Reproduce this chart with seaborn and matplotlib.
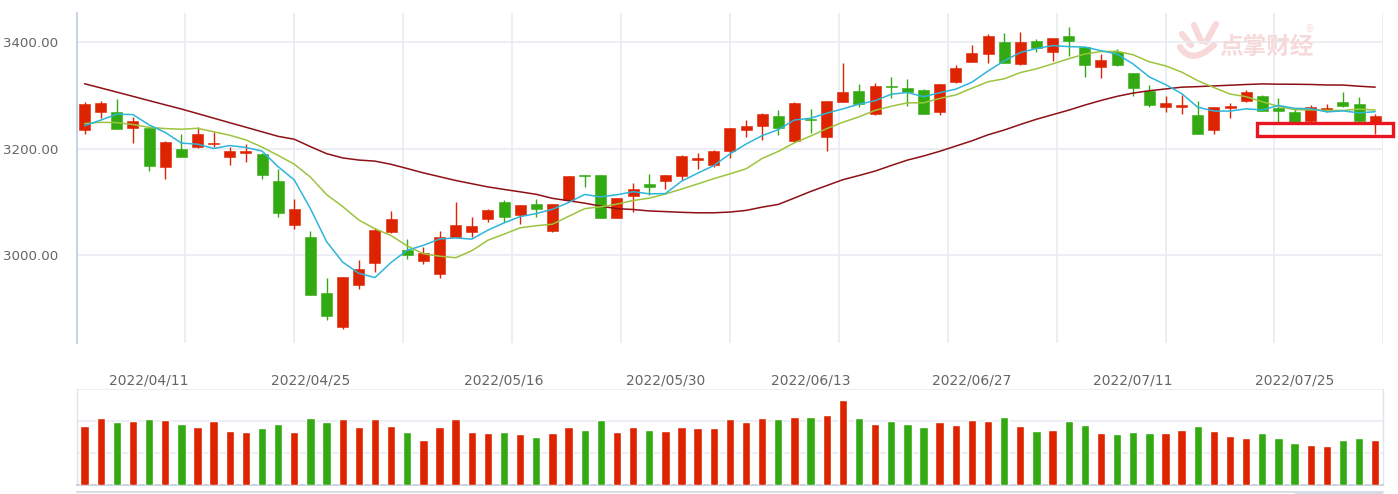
import numpy as np
import pandas as pd
import matplotlib
matplotlib.use("Agg")
import matplotlib.pyplot as plt
from matplotlib.patches import Rectangle
from matplotlib.path import Path
from matplotlib.patches import PathPatch
import seaborn as sns

# ---------------- data ----------------
apr = ["04/01", "04/06", "04/07", "04/08", "04/11", "04/12", "04/13", "04/14", "04/15",
       "04/18", "04/19", "04/20", "04/21", "04/22", "04/25", "04/26", "04/27", "04/28", "04/29"]
may = ["05/05", "05/06", "05/09", "05/10", "05/11", "05/12", "05/13", "05/16", "05/17", "05/18",
       "05/19", "05/20", "05/23", "05/24", "05/25", "05/26", "05/27", "05/30", "05/31"]
jun = ["06/01", "06/02", "06/06", "06/07", "06/08", "06/09", "06/10", "06/13", "06/14", "06/15",
       "06/16", "06/17", "06/20", "06/21", "06/22", "06/23", "06/24", "06/27", "06/28", "06/29", "06/30"]
jul = ["07/01", "07/04", "07/05", "07/06", "07/07", "07/08", "07/11", "07/12", "07/13", "07/14",
       "07/15", "07/18", "07/19", "07/20", "07/21", "07/22", "07/25", "07/26", "07/27", "07/28", "07/29"]
aug = ["08/01"]
dates = ["2022/" + d for d in apr + may + jun + jul + aug]

opens = [3234.6, 3267.8, 3268.9, 3238.4, 3238.4, 3164.8, 3199.0, 3202.2, 3208.4, 3184.6,
         3191.0, 3190.3, 3138.6, 3056.7, 3034.8, 2930.0, 2865.2, 2944.4, 2985.0, 3043.1,
         3010.5, 2989.9, 2964.4, 3033.7, 3043.1, 3067.9, 3100.4, 3074.9, 3095.5, 3045.5,
         3103.5, 3149.8, 3149.8, 3070.4, 3111.0, 3134.1, 3139.7, 3149.2, 3178.5, 3169.1,
         3195.3, 3234.6, 3242.7, 3260.3, 3214.0, 3255.8, 3222.1, 3287.6, 3307.7, 3264.6,
         3316.5, 3313.3, 3309.0, 3267.8, 3324.0, 3362.0, 3376.4, 3399.4, 3357.7, 3401.3,
         3380.1, 3410.7, 3390.6, 3353.2, 3381.3, 3340.8, 3307.1, 3278.3, 3277.7, 3262.7,
         3234.6, 3276.4, 3289.5, 3298.3, 3276.4, 3268.9, 3252.0, 3272.1, 3287.1, 3282.8,
         3247.2]
highs = [3286.5, 3289.5, 3292.1, 3258.4, 3239.0, 3214.6, 3226.6, 3239.7, 3230.9, 3203.4,
         3208.4, 3191.0, 3161.0, 3105.4, 3044.9, 2956.9, 2959.5, 2991.2, 3050.5, 3083.0,
         3030.5, 3015.5, 3044.9, 3100.4, 3071.2, 3086.7, 3103.5, 3094.0, 3104.9, 3096.0,
         3148.5, 3150.5, 3151.0, 3107.2, 3134.8, 3151.7, 3150.3, 3188.4, 3191.0, 3197.2,
         3238.5, 3253.4, 3267.0, 3272.1, 3286.5, 3273.9, 3290.0, 3359.6, 3320.8, 3323.2,
         3334.5, 3329.6, 3312.0, 3321.3, 3356.4, 3393.3, 3413.9, 3415.7, 3418.2, 3405.1,
         3406.9, 3427.0, 3391.2, 3377.0, 3385.8, 3341.3, 3318.4, 3298.3, 3300.2, 3289.5,
         3278.2, 3284.6, 3309.5, 3300.7, 3294.0, 3273.4, 3282.0, 3282.8, 3305.8, 3296.4,
         3264.6]
lows = [3227.0, 3256.6, 3236.0, 3209.7, 3157.3, 3142.3, 3184.0, 3201.0, 3202.2, 3168.5,
        3175.3, 3144.0, 3071.1, 3049.2, 2925.0, 2878.8, 2863.0, 2936.9, 2968.2, 3042.5,
        2993.0, 2983.7, 2956.9, 3033.0, 3033.7, 3061.8, 3061.8, 3058.6, 3072.3, 3043.0,
        3102.5, 3128.5, 3070.0, 3069.8, 3081.6, 3112.9, 3123.6, 3141.0, 3162.2, 3164.8,
        3181.6, 3222.1, 3215.9, 3225.3, 3212.7, 3229.6, 3195.9, 3287.0, 3278.3, 3262.7,
        3294.6, 3280.1, 3264.6, 3262.7, 3323.5, 3361.5, 3359.6, 3359.5, 3357.2, 3380.1,
        3364.4, 3373.8, 3334.5, 3332.6, 3355.3, 3298.9, 3278.3, 3267.8, 3264.0, 3226.6,
        3227.1, 3256.5, 3287.6, 3270.3, 3248.3, 3247.8, 3248.3, 3267.8, 3277.1, 3247.2,
        3226.6]
closes = [3282.8, 3284.6, 3236.5, 3250.9, 3167.2, 3212.7, 3184.6, 3226.6, 3210.3, 3194.7,
          3194.7, 3150.9, 3079.8, 3086.7, 2925.6, 2886.3, 2958.8, 2975.0, 3046.8, 3067.4,
          3000.6, 3004.3, 3034.8, 3057.3, 3055.4, 3084.8, 3072.3, 3093.6, 3086.1, 3095.5,
          3147.9, 3147.9, 3070.4, 3106.7, 3123.6, 3128.5, 3149.8, 3186.0, 3182.2, 3194.7,
          3237.8, 3242.1, 3264.6, 3239.0, 3284.6, 3253.9, 3289.5, 3305.2, 3283.3, 3316.5,
          3314.6, 3306.4, 3265.2, 3320.8, 3350.2, 3379.4, 3411.2, 3360.1, 3399.4, 3387.6,
          3406.4, 3401.9, 3355.8, 3365.7, 3355.8, 3312.7, 3280.9, 3284.6, 3282.0, 3227.1,
          3277.7, 3280.1, 3305.8, 3270.8, 3270.2, 3250.2, 3277.1, 3275.8, 3280.1, 3252.0,
          3260.9]
volumes = [277, 316, 294, 299, 309, 303, 287, 271, 299, 253,
           248, 266, 287, 248, 316, 294, 309, 271, 309, 277,
           248, 210, 271, 309, 248, 244, 248, 238, 225, 244,
           271, 259, 305, 248, 271, 259, 253, 271, 266, 266,
           309, 294, 316, 309, 320, 320, 327, 400, 316, 287,
           299, 287, 271, 294, 281, 305, 299, 320, 277, 253,
           259, 299, 281, 242, 238, 248, 242, 242, 259, 277,
           253, 231, 220, 242, 220, 197, 186, 181, 210, 220,
           210]

# moving-average values visible at the left edge (windows start before the chart)
ma5_head = [3243.0, 3253.4, 3264.6, 3263.7]
ma10_head = [3247.0, 3249.3, 3248.7, 3245.1, 3239.9, 3237.6, 3236.3, 3238.0, 3231.6]
ma30_head = [3321.5, 3313.7, 3305.8, 3297.9, 3289.9, 3282.0, 3274.2, 3265.7, 3257.1, 3248.5,
             3240.1, 3231.5, 3223.0, 3217.6, 3203.7, 3190.6, 3182.6, 3178.6, 3176.6, 3170.6,
             3162.7, 3154.6, 3147.5, 3140.4, 3134.3, 3128.3, 3123.6, 3119.1, 3114.4]

tick_dates = ["2022/04/11", "2022/04/25", "2022/05/16", "2022/05/30",
              "2022/06/13", "2022/06/27", "2022/07/11", "2022/07/25"]
y_ticks = [3000, 3200, 3400]

# ---------------- frame ----------------
df = pd.DataFrame({"date": dates, "open": opens, "high": highs, "low": lows,
                   "close": closes, "volume": volumes})
df["idx"] = np.arange(len(df))
df["dir"] = np.where(df["close"] >= df["open"], "up", "down")

def ma(series, n, head):
    m = series.rolling(n).mean().to_numpy()
    m[:len(head)] = head
    return m

df["ma5"] = ma(df["close"], 5, ma5_head)
df["ma10"] = ma(df["close"], 10, ma10_head)
df["ma30"] = ma(df["close"], 30, ma30_head)

RED = "#de2300"
GREEN = "#33aa11"
C_MA5 = "#2db5dc"
C_MA10 = "#9cc43c"
C_MA30 = "#8e1015"
GRID = "#e8ecf2"
TXT = "#666666"
WM = "#f7d9d9"

sns.set_theme(style="white")
plt.rcParams["font.family"] = ["DejaVu Sans", "Noto Sans CJK SC"]

W, H = 1398, 494
fig = plt.figure(figsize=(W / 100, H / 100), dpi=100)

def fx(px):
    return px / W

def fy(py):
    return 1 - py / H

# ---- watermark (behind everything) ----
fig.text(fx(1219), fy(47), "点掌财经", family=["Noto Sans CJK SC", "DejaVu Sans"],
         fontsize=17, fontweight="bold", color=WM, va="center", ha="left", zorder=0)
fig.text(fx(1305), fy(29), "®", fontsize=7, color=WM, va="center", ha="left", zorder=0)
for (x0, y0, x1, y1) in [(1182, 34, 1191, 45), (1194, 25, 1201, 41), (1216, 24, 1206, 42)]:
    fig.add_artist(plt.Line2D([fx(x0), fx(x1)], [fy(y0), fy(y1)], color=WM, lw=4.5,
                              solid_capstyle="round", zorder=0))
verts = [(fx(1180), fy(47)), (fx(1188), fy(60)), (fx(1200), fy(58)), (fx(1214), fy(45))]
fig.add_artist(PathPatch(Path(verts, [Path.MOVETO, Path.CURVE4, Path.CURVE4, Path.CURVE4]),
                         transform=fig.transFigure, fill=False, edgecolor=WM, lw=4.5,
                         capstyle="round", zorder=0))

L, R = 76.5, 1383.3
ax = fig.add_axes([fx(L), fy(343), fx(R - L), (343 - 13) / H])
axv = fig.add_axes([fx(L), fy(485), fx(R - L), (485 - 389) / H])
ax.patch.set_alpha(0)

n = len(df)
xlo, xhi = -0.5, n - 0.5

# ---- main panel grid ----
for k in range(1, 13):
    ax.axvline(xlo + k * (xhi - xlo) / 12, color=GRID, lw=1.2, zorder=0)
for yv in y_ticks:
    ax.axhline(yv, color=GRID, lw=1.2, zorder=0)

# ---- candles ----
col = np.where(df["dir"] == "up", RED, GREEN)
ax.vlines(df["idx"], df["low"], df["high"], colors=col, lw=1.0, zorder=2)
body_lo = np.minimum(df["open"], df["close"])
body_h = np.maximum(np.abs(df["close"] - df["open"]), 1.2)
ax.bar(df["idx"], body_h, bottom=body_lo, width=0.68, color=col, edgecolor=col,
       linewidth=0.4, zorder=3)

# ---- moving averages ----
sns.lineplot(data=df, x="idx", y="ma30", ax=ax, color=C_MA30, lw=1.1, zorder=4)
sns.lineplot(data=df, x="idx", y="ma10", ax=ax, color=C_MA10, lw=1.1, zorder=4)
sns.lineplot(data=df, x="idx", y="ma5", ax=ax, color=C_MA5, lw=1.1, zorder=4)

ax.set_xlim(xlo, xhi)
ax.set_ylim(2836, 3454)
ax.set_yticks(y_ticks)
ax.set_yticklabels([f"{v:.2f}" for v in y_ticks], color=TXT, fontsize=9.6)
tick_pos = [dates.index(d) for d in tick_dates]
ax.set_xticks(tick_pos)
ax.set_xticklabels(tick_dates, color=TXT, fontsize=10)
ax.tick_params(axis="x", length=0, pad=22)
ax.tick_params(axis="y", length=0, pad=13)
ax.set_xlabel("")
ax.set_ylabel("")
for s in ["top", "right", "bottom"]:
    ax.spines[s].set_visible(False)
ax.spines["left"].set_color("#b9cde8")
ax.spines["left"].set_linewidth(1.2)

# ---- volume panel ----
sns.barplot(data=df, x="idx", y="volume", hue="dir", palette={"up": RED, "down": GREEN},
            dodge=False, width=0.52, legend=False, ax=axv, saturation=1, zorder=3)
axv.set_xlim(xlo, xhi)
axv.set_ylim(0, 450)
for yv in [150, 300, 450]:
    axv.axhline(yv, color=GRID, lw=1.2, zorder=0)
axv.set_xticks([])
axv.set_yticks([])
axv.set_xlabel("")
axv.set_ylabel("")
axv.spines["top"].set_visible(False)
for s in ["left", "right"]:
    axv.spines[s].set_color("#dfe5ee")
    axv.spines[s].set_linewidth(1.0)
axv.spines["bottom"].set_color("#c9d1de")
axv.spines["bottom"].set_linewidth(1.4)

# ---- slider line below ----
fig.add_artist(plt.Line2D([fx(L), fx(R)], [fy(492), fy(492)], color="#d8dde6", lw=1.5))
fig.add_artist(Rectangle((fx(1295), 0), fx(1383 - 1295), fy(492), transform=fig.transFigure,
                         facecolor="#d3dae5", edgecolor="none"))

# ---- red highlight box ----
fig.add_artist(Rectangle((fx(1257), fy(136)), fx(1393 - 1257), (136 - 123) / H,
                         transform=fig.transFigure, fill=False, edgecolor="#e8161e", lw=2.4))

fig.savefig("out.png", dpi=100, facecolor="white")
